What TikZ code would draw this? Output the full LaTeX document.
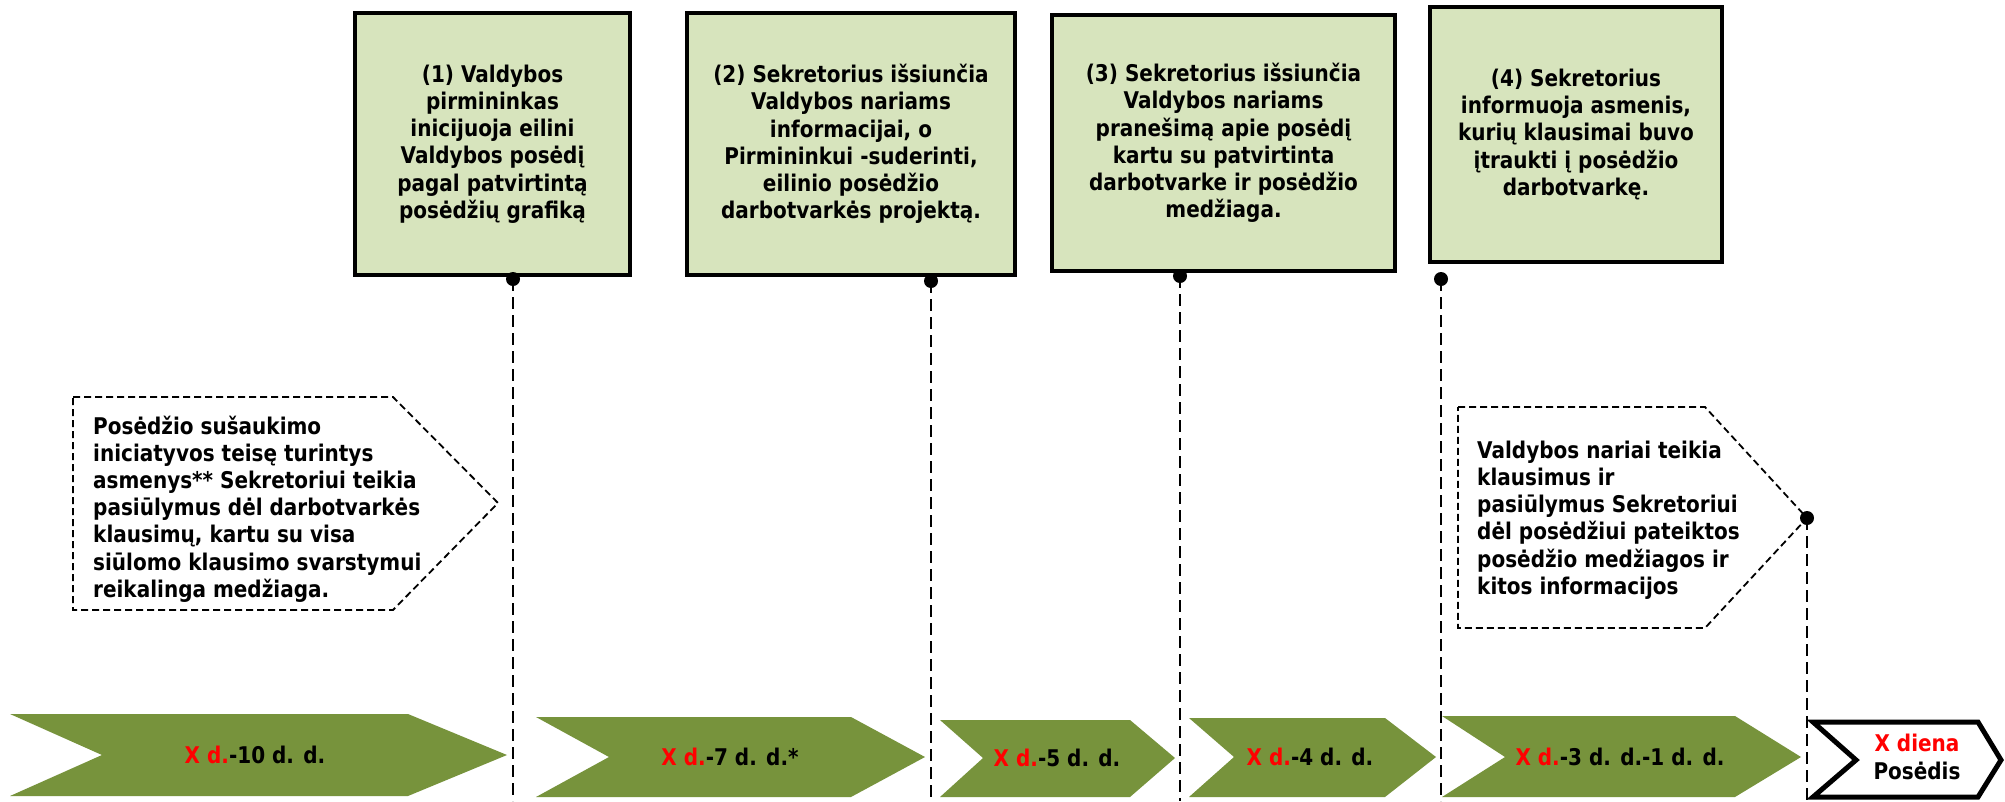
\documentclass[tikz,border=0pt]{standalone}
\usepackage{fontspec}
\newfontfamily\tah[FakeStretch=0.87]{DejaVu Sans Bold}
\definecolor{boxgreen}{HTML}{D7E4BD}
\definecolor{chevgreen}{HTML}{77933C}
\definecolor{xred}{HTML}{FF0000}
\begin{document}
\begin{tikzpicture}[x=1pt,y=-1pt,
  every node/.style={font=\tah\fontsize{23}{27.2}\selectfont, inner sep=0pt},
  stepbox/.style={draw=black, line width=4pt, fill=boxgreen, align=center},
  dotmark/.style={circle, fill=black, minimum size=14pt, inner sep=0pt},
  vline/.style={line width=2pt, dash pattern=on 12pt off 6pt},
  callout/.style={draw=black, line width=1.8pt, dash pattern=on 7pt off 4pt},
  chev/.style={fill=chevgreen},
  endchev/.style={draw=black, line width=5pt, fill=white, line join=miter},
  lbl/.style={align=center}
]
\path[use as bounding box, fill=white] (0,0) rectangle (2005,801);

% top boxes
\node[stepbox, minimum width=275pt, minimum height=262pt] (b1) at (492.5,144)
  {(1) Valdybos\\pirmininkas\\inicijuoja eilini\\Valdybos posėdį\\pagal patvirtintą\\posėdžių grafiką};
\node[stepbox, minimum width=328pt, minimum height=262pt] (b2) at (851,144)
  {(2) Sekretorius išsiunčia\\Valdybos nariams\\informacijai, o\\Pirmininkui -suderinti,\\eilinio posėdžio\\darbotvarkės projektą.};
\node[stepbox, minimum width=343pt, minimum height=256pt] (b3) at (1223.5,143)
  {(3) Sekretorius išsiunčia\\Valdybos nariams\\pranešimą apie posėdį\\kartu su patvirtinta\\darbotvarke ir posėdžio\\medžiaga.};
\node[stepbox, minimum width=292pt, minimum height=255pt] (b4) at (1576,134.5)
  {(4) Sekretorius\\informuoja asmenis,\\kurių klausimai buvo\\įtraukti į posėdžio\\darbotvarkę.};

% callouts
\draw[callout] (73,397) -- (393,397) -- (498,503) -- (393,610) -- (73,610) -- cycle;
\node[anchor=west, align=left] (c1) at (93,509)
  {Posėdžio sušaukimo\\iniciatyvos teisę turintys\\asmenys** Sekretoriui teikia\\pasiūlymus dėl darbotvarkės\\klausimų, kartu su visa\\siūlomo klausimo svarstymui\\reikalinga medžiaga.};
\draw[callout] (1458,407) -- (1705,407) -- (1807,518) -- (1705,628) -- (1458,628) -- cycle;
\node[anchor=west, align=left] (c2) at (1477,520)
  {Valdybos nariai teikia\\klausimus ir\\pasiūlymus Sekretoriui\\dėl posėdžiui pateiktos\\posėdžio medžiagos ir\\kitos informacijos};

% chevrons
\fill[chev] (10,714) -- (408,714) -- (507,755) -- (408,796) -- (10,796) -- (102,755) -- cycle;
\node[lbl] (t1) at (255,755) {{\color{xred}X d.}-10 d. d.};
\fill[chev] (536,717) -- (851,717) -- (925,757) -- (851,797) -- (536,797) -- (609,757) -- cycle;
\node[lbl] (t2) at (730,757) {{\color{xred}X d.}-7 d. d.*};
\fill[chev] (940,720) -- (1130,720) -- (1175,758) -- (1130,797) -- (940,797) -- (983,758) -- cycle;
\node[lbl] (t3) at (1057,758) {{\color{xred}X d.}-5 d. d.};
\fill[chev] (1189,718) -- (1385,718) -- (1436,757) -- (1385,797) -- (1189,797) -- (1234,757) -- cycle;
\node[lbl] (t4) at (1310,757) {{\color{xred}X d.}-4 d. d.};
\fill[chev] (1442,716) -- (1735,716) -- (1801,757) -- (1735,797) -- (1442,797) -- (1505,757) -- cycle;
\node[lbl] (t5) at (1620,757) {{\color{xred}X d.}-3 d. d.-1 d. d.};
\draw[endchev] (1813,722) -- (1978,722) -- (2001,760) -- (1978,797) -- (1813,797) -- (1856,760) -- cycle;
\node[lbl] (t6) at (1917,757) {{\color{xred}X diena}\\Posėdis};

% dots and dashed time lines
\node[dotmark] (d1) at (513,279) {};
\node[dotmark] (d2) at (931,281) {};
\node[dotmark] (d3) at (1180,276) {};
\node[dotmark] (d4) at (1441,279) {};
\node[dotmark] (d5) at (1807,518) {};
\coordinate (e1) at (513,801);
\coordinate (e2) at (931,801);
\coordinate (e3) at (1180,801);
\coordinate (e4) at (1441,801);
\coordinate (e5) at (1807,801);
\foreach \i in {1,...,5} { \draw[vline] (d\i.center) -- (e\i); }
\end{tikzpicture}
\end{document}
